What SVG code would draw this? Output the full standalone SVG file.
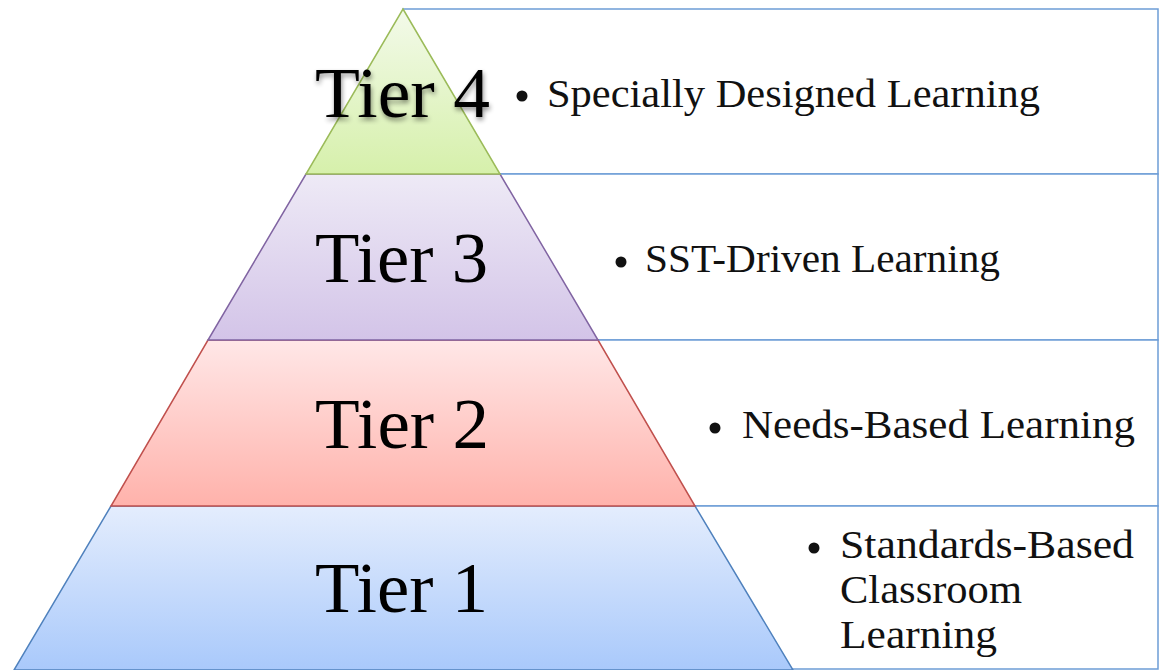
<svg xmlns="http://www.w3.org/2000/svg" width="1163" height="670" viewBox="0 0 1163 670">
<style>
.box{fill:#fff;stroke:#6d9dd6;stroke-width:1.5}
.tier{font-family:"Liberation Serif","DejaVu Serif",serif;font-size:71px;fill:#000;text-anchor:start}
.item{font-family:"Liberation Serif","DejaVu Serif",serif;font-size:41px;fill:#111}
.dot{fill:#111}
</style>
<defs>
<linearGradient id="g4" x1="0" y1="0" x2="0" y2="1"><stop offset="0" stop-color="#f3faea"/><stop offset="1" stop-color="#d6f0ab"/></linearGradient>
<linearGradient id="g3" x1="0" y1="0" x2="0" y2="1"><stop offset="0" stop-color="#eeeaf6"/><stop offset="1" stop-color="#d3c4e8"/></linearGradient>
<linearGradient id="g2" x1="0" y1="0" x2="0" y2="1"><stop offset="0" stop-color="#ffe7e7"/><stop offset="1" stop-color="#ffb2ab"/></linearGradient>
<linearGradient id="g1" x1="0" y1="0" x2="0" y2="1"><stop offset="0" stop-color="#e4edfd"/><stop offset="1" stop-color="#a9c9fb"/></linearGradient>
<filter id="sh" x="-10%" y="-20%" width="130%" height="150%">
<feGaussianBlur in="SourceAlpha" stdDeviation="2.5"/>
<feOffset dx="1" dy="3" result="b"/>
<feComponentTransfer><feFuncA type="linear" slope="0.45"/></feComponentTransfer>
<feMerge><feMergeNode/><feMergeNode in="SourceGraphic"/></feMerge>
</filter>
</defs>
<g id="boxes">
<rect id="box4" class="box" x="403" y="9" width="755" height="165"/>
<rect id="box3" class="box" x="403" y="174" width="755" height="166"/>
<rect id="box2" class="box" x="403" y="340" width="755" height="166"/>
<rect id="box1" class="box" x="403" y="506" width="755" height="163"/>
</g>
<g id="tier1">
<polygon points="111,506 695,506 793,670 14,670" fill="url(#g1)" stroke="#4f81bd" stroke-width="1.5"/>
<text class="tier" x="315" y="612" textLength="173" lengthAdjust="spacingAndGlyphs">Tier 1</text>
</g>
<g id="tier2">
<polygon points="208,340 598,340 695,506 111,506" fill="url(#g2)" stroke="#c0504d" stroke-width="1.5"/>
<text class="tier" x="315" y="448" textLength="174" lengthAdjust="spacingAndGlyphs">Tier 2</text>
</g>
<g id="tier3">
<polygon points="306,174 500,174 598,340 208,340" fill="url(#g3)" stroke="#8064a2" stroke-width="1.5"/>
<text class="tier" x="315" y="282" textLength="173" lengthAdjust="spacingAndGlyphs">Tier 3</text>
</g>
<g id="tier4">
<polygon points="403,9 500,174 306,174" fill="url(#g4)" stroke="#9bbb59" stroke-width="1.5"/>
<text class="tier" x="315" y="117" textLength="175" lengthAdjust="spacingAndGlyphs" filter="url(#sh)">Tier 4</text>
</g>
<g id="label4">
<circle class="dot" cx="522" cy="96" r="5.5"/>
<text class="item" x="547" y="107" textLength="493" lengthAdjust="spacingAndGlyphs">Specially Designed Learning</text>
</g>
<g id="label3">
<circle class="dot" cx="621" cy="262" r="5.5"/>
<text class="item" x="645" y="272" textLength="355" lengthAdjust="spacingAndGlyphs">SST-Driven Learning</text>
</g>
<g id="label2">
<circle class="dot" cx="715" cy="428" r="5.5"/>
<text class="item" x="742" y="438" textLength="393" lengthAdjust="spacingAndGlyphs">Needs-Based Learning</text>
</g>
<g id="label1">
<circle class="dot" cx="814" cy="548" r="5.5"/>
<text class="item" x="840" y="558" textLength="294" lengthAdjust="spacingAndGlyphs">Standards-Based</text>
<text class="item" x="840" y="603" textLength="182" lengthAdjust="spacingAndGlyphs">Classroom</text>
<text class="item" x="840" y="648" textLength="157" lengthAdjust="spacingAndGlyphs">Learning</text>
</g>
</svg>
